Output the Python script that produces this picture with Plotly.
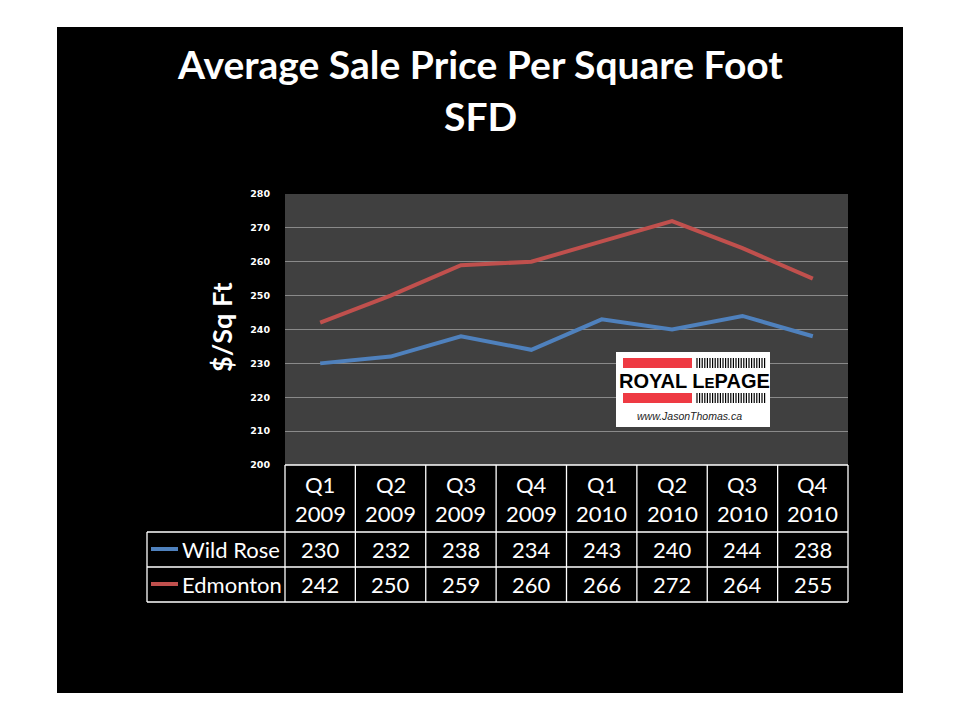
"""Average sale price per square foot - SFD, Wild Rose vs Edmonton."""
import plotly.graph_objects as go

# data
quarters = ["Q1", "Q2", "Q3", "Q4", "Q1", "Q2", "Q3", "Q4"]
years = ["2009", "2009", "2009", "2009", "2010", "2010", "2010", "2010"]
categories = [f"{q} {y}" for q, y in zip(quarters, years)]
wild_rose = [230, 232, 238, 234, 243, 240, 244, 238]
edmonton = [242, 250, 259, 260, 266, 272, 264, 255]
series = [("Wild Rose", wild_rose, "#4F81BD"), ("Edmonton", edmonton, "#C0504D")]

# page offset of the plotly div (body margin)
OFF = 8
# plot area in page pixels
L, R, T, B = 285, 848, 194, 465


def px(x):
    return (x - L) / (R - L)


def py(y):
    return (B - y) / (B - T)


FONT = "Lato"
fig = go.Figure()
for name, vals, col in series:
    fig.add_trace(go.Scatter(x=categories, y=vals, mode="lines", name=name,
                             line=dict(color=col, width=4)))

shapes = []
# black slide and grey plot area
shapes.append(dict(type="rect", xref="paper", yref="paper", layer="below",
                   x0=px(57), x1=px(903), y0=py(693), y1=py(27),
                   fillcolor="black", line_width=0))
shapes.append(dict(type="rect", xref="paper", yref="paper", layer="below",
                   x0=0, x1=1, y0=0, y1=1, fillcolor="#404040", line_width=0))

# data table grid
wl = dict(color="white", width=1.3)
row_y = [py(465), py(532), py(567), py(602)]
left = px(147)
shapes.append(dict(type="line", xref="paper", yref="paper", x0=0, x1=1,
                   y0=row_y[0], y1=row_y[0], line=wl))
for yv in row_y[1:]:
    shapes.append(dict(type="line", xref="paper", yref="paper", x0=left, x1=1,
                       y0=yv, y1=yv, line=wl))
shapes.append(dict(type="line", xref="paper", yref="paper", x0=left, x1=left,
                   y0=row_y[3], y1=row_y[1], line=wl))
n = len(categories)
for i in range(n + 1):
    shapes.append(dict(type="line", xref="paper", yref="paper", x0=i / n, x1=i / n,
                       y0=row_y[3], y1=row_y[0], line=wl))

annotations = []
for i, (q, yr) in enumerate(zip(quarters, years)):
    xc = (i + 0.5) / n
    annotations.append(dict(x=xc, y=py(484), text=q))
    annotations.append(dict(x=xc, y=py(513), text=yr))
for r, (name, vals, col) in enumerate(series):
    yc = py(549 + 35 * r)
    for i, v in enumerate(vals):
        annotations.append(dict(x=(i + 0.5) / n, y=yc, text=str(v)))
    shapes.append(dict(type="line", xref="paper", yref="paper", x0=px(151), x1=px(178),
                       y0=yc, y1=yc, line=dict(color=col, width=4)))
    annotations.append(dict(x=px(180), y=yc, text=name, xanchor="left"))
for a in annotations:
    a.update(xref="paper", yref="paper", showarrow=False, yanchor="middle",
             font=dict(family=FONT, size=22, color="white"))
    a.setdefault("xanchor", "center")


def label(x, y, text, font, **kw):
    annotations.append(dict(x=px(x), y=py(y), xref="paper", yref="paper", text=text,
                            showarrow=False, xanchor="center", yanchor="middle",
                            font=font, **kw))


# titles
title_font = dict(family=FONT, size=39, color="white", weight="bold")
label(480, 64, "Average Sale Price Per Square Foot", title_font)
label(480, 116, "SFD", title_font)
label(221, 327, "$/Sq Ft", dict(family=FONT, size=27, color="white", weight="bold"),
      textangle=-90)

# Royal LePage logo
shapes.append(dict(type="rect", xref="paper", yref="paper", x0=px(616), x1=px(770),
                   y0=py(427), y1=py(352), fillcolor="white", line_width=0))
for y0, y1 in [(358, 368), (393, 403)]:
    shapes.append(dict(type="rect", xref="paper", yref="paper", x0=px(623), x1=px(692),
                       y0=py(y1), y1=py(y0), fillcolor="#EE3A43", line_width=0))
    for k in range(27):
        xx = px(697 + k * 2.6)
        shapes.append(dict(type="line", xref="paper", yref="paper", x0=xx, x1=xx,
                           y0=py(y1), y1=py(y0), line=dict(color="black", width=1.2)))
label(694, 381, "ROYAL L<span style='font-size:15px'>E</span>PAGE",
      dict(family="Liberation Sans", size=20, color="black", weight="bold"))
label(689, 416, "<i>www.JasonThomas.ca</i>",
      dict(family="Liberation Sans", size=10.5, color="#222"))

fig.update_layout(
    width=960, height=720,
    margin=dict(l=L - OFF, r=960 - R + OFF, t=T - OFF, b=720 - B + OFF, pad=0),
    paper_bgcolor="white", plot_bgcolor="#404040",
    showlegend=False,
    shapes=shapes, annotations=annotations,
    xaxis=dict(type="category", range=[-0.5, n - 0.5], showticklabels=False,
               showgrid=False, zeroline=False, ticks=""),
    yaxis=dict(range=[200, 280], dtick=10, showgrid=True, gridcolor="#8a8a8a",
               gridwidth=1, zeroline=False, ticks="outside", ticklen=12,
               tickcolor="black",
               tickfont=dict(family="DejaVu Sans", size=9.5, color="white",
                             weight="bold")),
)

fig.write_html("out.html")
